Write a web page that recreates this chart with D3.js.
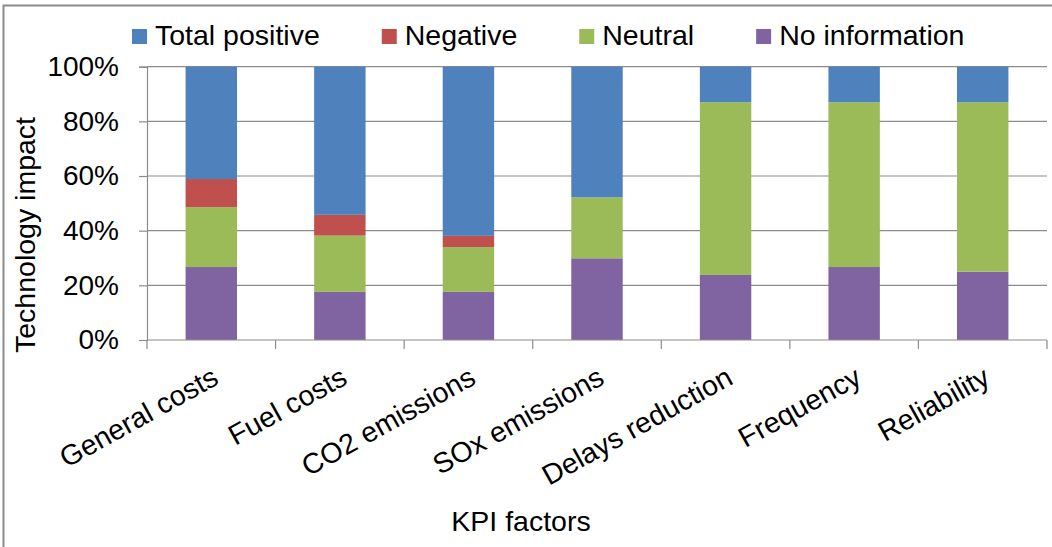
<!DOCTYPE html>
<html>
<head>
<meta charset="utf-8">
<script src="https://cdn.jsdelivr.net/npm/d3@7"></script>
<style>
  html, body { margin: 0; padding: 0; background: #fff; }
  svg { display: block; }
  text { font-family: "Liberation Sans", Arial, sans-serif; fill: #000; }
</style>
</head>
<body>
<svg id="chart" width="1052" height="547"></svg>
<script>
// ---- data ----
const categories = ["General costs", "Fuel costs", "CO2 emissions", "SOx emissions", "Delays reduction", "Frequency", "Reliability"];
const seriesNames = ["Total positive", "Negative", "Neutral", "No information"];
const noInformation = [26.7, 17.6, 17.6, 29.9, 23.8, 26.7, 25.0];
const neutral       = [21.9, 20.6, 16.4, 22.3, 63.2, 60.3, 62.0];
const negative      = [10.3,  7.6,  4.1,  0.0,  0.0,  0.0,  0.0];
const totalPositive = [41.1, 54.2, 61.9, 47.8, 13.0, 13.0, 13.0];
const yTicks = [0, 0.2, 0.4, 0.6, 0.8, 1.0];
const colors = { "Total positive": "#4F81BD", "Negative": "#C0504D", "Neutral": "#9BBB59", "No information": "#8064A2" };

// ---- layout ----
const W = 1052, H = 547;
const plot = { left: 147, right: 1047, top: 66.7, bottom: 340 };
const gridColor = "#8c8c8c";
const fontSize = 28.5;
const tickFontSize = 28;

const svg = d3.select("#chart");

// outer frame
svg.append("rect")
  .attr("x", 3.5).attr("y", 5.5)
  .attr("width", W + 20).attr("height", H + 20)
  .attr("fill", "none").attr("stroke", gridColor).attr("stroke-width", 2);

const table = categories.map((c, i) => ({
  category: c,
  "No information": noInformation[i] / 100,
  "Neutral": neutral[i] / 100,
  "Negative": negative[i] / 100,
  "Total positive": totalPositive[i] / 100
}));

const stackOrder = ["No information", "Neutral", "Negative", "Total positive"];
const stacked = d3.stack().keys(stackOrder)(table);

const x = d3.scaleBand().domain(categories)
  .range([plot.left, plot.right]).paddingInner(0.6).paddingOuter(0.3);
const y = d3.scaleLinear().domain([0, 1]).range([plot.bottom, plot.top]);

// gridlines
svg.append("g").selectAll("line").data(yTicks.filter(t => t > 0)).join("line")
  .attr("x1", plot.left).attr("x2", plot.right)
  .attr("y1", d => y(d)).attr("y2", d => y(d))
  .attr("stroke", gridColor).attr("stroke-width", 1.2);

// bars
svg.append("g").selectAll("g").data(stacked).join("g")
  .attr("fill", d => colors[d.key])
  .selectAll("rect").data(d => d).join("rect")
  .attr("x", d => x(d.data.category))
  .attr("width", x.bandwidth())
  .attr("y", d => y(d[1]))
  .attr("height", d => Math.max(0, y(d[0]) - y(d[1])));

// y axis
const yAxis = d3.axisLeft(y).tickValues(yTicks).tickFormat(d3.format(".0%"))
  .tickSize(8).tickPadding(20);
const gy = svg.append("g").attr("transform", `translate(${plot.left},0)`).call(yAxis);
gy.select(".domain").attr("stroke", gridColor).attr("stroke-width", 1.2);
gy.selectAll(".tick line").attr("stroke", gridColor).attr("stroke-width", 1.2);
gy.selectAll(".tick text").style("font-size", tickFontSize + "px")
  .style("font-family", '"Liberation Sans", Arial, sans-serif').attr("fill", "#000");

// x axis line and boundary ticks
const step = x.step();
const boundaries = d3.range(categories.length + 1).map(i => plot.left + i * step);
svg.append("line").attr("x1", plot.left).attr("x2", plot.right)
  .attr("y1", plot.bottom).attr("y2", plot.bottom)
  .attr("stroke", gridColor).attr("stroke-width", 1.2);
svg.append("g").selectAll("line").data(boundaries).join("line")
  .attr("x1", d => d).attr("x2", d => d)
  .attr("y1", plot.bottom).attr("y2", plot.bottom + 9)
  .attr("stroke", gridColor).attr("stroke-width", 1.2);

// x labels rotated
svg.append("g").selectAll("text").data(categories).join("text")
  .attr("transform", d => `translate(${x(d) + x.bandwidth() / 2 + 9},${383}) rotate(-29)`)
  .attr("text-anchor", "end")
  .style("font-size", fontSize + "px")
  .text(d => d);

// axis titles
svg.append("text")
  .attr("transform", `translate(35,235) rotate(-90)`)
  .attr("text-anchor", "middle")
  .style("font-size", fontSize + "px")
  .text("Technology impact");

svg.append("text")
  .attr("x", 521).attr("y", 531)
  .attr("text-anchor", "middle")
  .style("font-size", fontSize + "px")
  .text("KPI factors");

// legend
const legend = svg.append("g");
let lx = 132;
seriesNames.forEach(name => {
  const g = legend.append("g");
  g.append("rect").attr("x", lx).attr("y", 29).attr("width", 15).attr("height", 15)
    .attr("fill", colors[name]);
  const t = g.append("text").attr("x", lx + 23).attr("y", 45)
    .style("font-size", fontSize + "px").text(name);
  lx += 23 + t.node().getComputedTextLength() + 62;
});
</script>
</body>
</html>
